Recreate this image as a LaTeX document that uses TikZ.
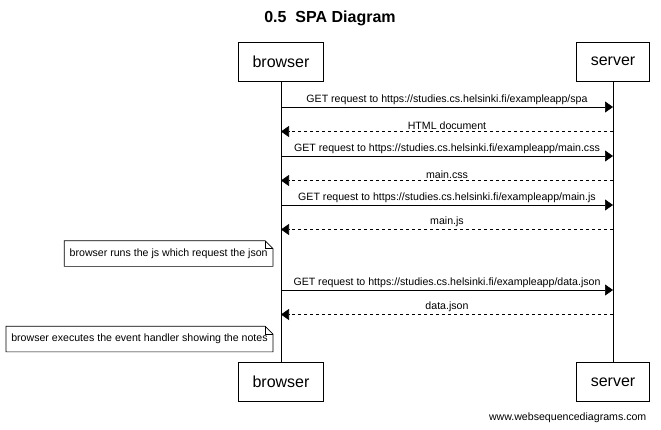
\documentclass[tikz,border=0pt]{standalone}
\usepackage{fontspec}
\setmainfont{Liberation Sans}
\usetikzlibrary{arrows.meta, positioning}

\begin{document}
\begin{tikzpicture}[x=1pt, y=-1pt, line width=0.7pt,
		actor/.style={draw, rectangle, minimum height=39pt, inner xsep=14pt, font=\fontsize{16}{18}\selectfont},
		msg/.style={-{Triangle[length=8pt, width=11pt]}},
		reply/.style={msg, dash pattern=on 3pt off 3pt},
		lbl/.style={above, inner sep=2pt, font=\fontsize{10.6}{12}\selectfont},
		note/.style={anchor=east, minimum height=25pt, inner xsep=5pt, font=\fontsize{10.6}{12}\selectfont}]

		\useasboundingbox (0,0) rectangle (661,429);

		%% Title and actors
		\begin{scope}
			\node (title) at (330,18) {\fontsize{16}{18}\selectfont\bfseries 0.5\ \ SPA Diagram};

			\node (browser) at (281,61.5) [actor] {browser};
			\node (server) at (613,61.5) [actor] {server};

			\node (browser_end) [actor, below = 281pt of browser] {browser};
			\node (server_end) [actor, below = 281pt of server] {server};

			\node (footer) at (650,418) [anchor=east, font=\fontsize{10.6}{12}\selectfont] {www.websequencediagrams.com};
		\end{scope}

		% Lifelines
		\draw (browser) -- (browser_end);
		\draw (server) -- (server_end);

		% Points on the lifelines
		\foreach \i/\y in {1/107, 2/131.5, 3/156, 4/180.5, 5/205, 6/229.5, 7/290, 8/314.5} {
			\coordinate (b\i) at (281,\y);
			\coordinate (s\i) at (613,\y);
		}

		% Notes
		\begin{scope}
			\node (note_js) at (273,253.5) [note] {browser runs the js which request the json};
			\node (note_notes) at (273,339) [note] {browser executes the event handler showing the notes};
		\end{scope}
		\foreach \n in {note_js, note_notes} {
			\draw (\n.south west) -- (\n.north west) -- ([xshift=-8pt]\n.north east)
				-- ([yshift=-8pt]\n.north east) -- (\n.south east) -- cycle;
			\draw ([xshift=-8pt]\n.north east) |- ([yshift=-8pt]\n.north east);
		}

		%% Messages
		\draw[msg] (b1) -- node[lbl] {GET request to https://studies.cs.helsinki.fi/exampleapp/spa} (s1);
		\draw[reply] (s2) -- node[lbl] {HTML document} (b2);
		\draw[msg] (b3) -- node[lbl] {GET request to https://studies.cs.helsinki.fi/exampleapp/main.css} (s3);
		\draw[reply] (s4) -- node[lbl] {main.css} (b4);
		\draw[msg] (b5) -- node[lbl] {GET request to https://studies.cs.helsinki.fi/exampleapp/main.js} (s5);
		\draw[reply] (s6) -- node[lbl] {main.js} (b6);
		\draw[msg] (b7) -- node[lbl] {GET request to https://studies.cs.helsinki.fi/exampleapp/data.json} (s7);
		\draw[reply] (s8) -- node[lbl] {data.json} (b8);
	\end{tikzpicture}
\end{document}
